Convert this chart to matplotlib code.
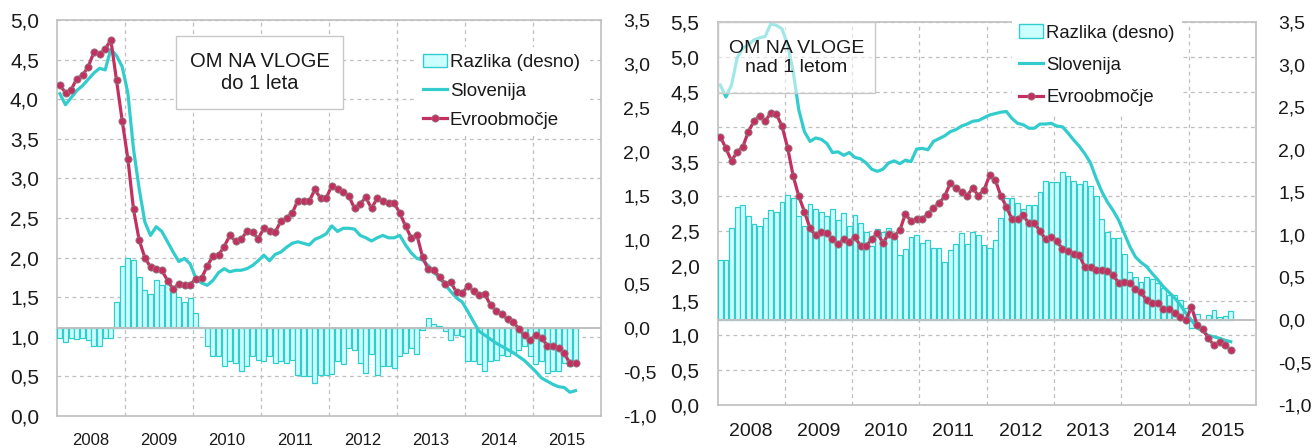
import matplotlib
matplotlib.use("Agg")
import matplotlib.pyplot as plt
import numpy as np
from matplotlib.lines import Line2D
from matplotlib.patches import Patch, Rectangle
from matplotlib.ticker import FixedLocator, FuncFormatter

plt.rcParams["font.family"] = ["Liberation Sans", "DejaVu Sans"]

# monthly data, Jan 2008 - Aug 2015
years = ["2008", "2009", "2010", "2011", "2012", "2013", "2014", "2015"]

# OM NA VLOGE do 1 leta
sl_short = [4.07, 3.93, 4.02, 4.11, 4.17, 4.25, 4.33, 4.39, 4.37, 4.63, 4.55, 4.41,
            4.08, 3.37, 2.87, 2.45, 2.28, 2.39, 2.33, 2.20, 2.07, 1.95, 1.99, 1.92,
            1.74, 1.68, 1.65, 1.71, 1.81, 1.86, 1.82, 1.84, 1.84, 1.86, 1.90, 1.96,
            2.03, 1.96, 2.04, 2.07, 2.13, 2.18, 2.20, 2.18, 2.16, 2.23, 2.26, 2.30,
            2.40, 2.33, 2.37, 2.37, 2.36, 2.28, 2.25, 2.21, 2.25, 2.28, 2.25, 2.25,
            2.28, 2.16, 2.06, 1.99, 1.97, 1.90, 1.82, 1.74, 1.66, 1.57, 1.49, 1.44,
            1.32, 1.19, 1.07, 1.02, 0.97, 0.92, 0.88, 0.84, 0.80, 0.75, 0.70, 0.63,
            0.56, 0.48, 0.44, 0.40, 0.37, 0.36, 0.30, 0.32]
ez_short = [4.18, 4.08, 4.12, 4.26, 4.30, 4.41, 4.59, 4.57, 4.63, 4.75, 4.24, 3.73,
            3.25, 2.61, 2.22, 2.00, 1.88, 1.85, 1.84, 1.71, 1.60, 1.67, 1.66, 1.66,
            1.73, 1.74, 1.89, 2.02, 2.03, 2.14, 2.28, 2.21, 2.23, 2.33, 2.32, 2.24,
            2.37, 2.34, 2.32, 2.46, 2.50, 2.56, 2.72, 2.71, 2.71, 2.86, 2.75, 2.75,
            2.91, 2.86, 2.83, 2.78, 2.62, 2.68, 2.76, 2.62, 2.75, 2.71, 2.69, 2.69,
            2.56, 2.40, 2.25, 2.29, 2.01, 1.85, 1.84, 1.76, 1.67, 1.69, 1.56, 1.55,
            1.64, 1.58, 1.53, 1.54, 1.40, 1.33, 1.29, 1.22, 1.19, 1.10, 1.02, 0.96,
            1.02, 0.99, 0.89, 0.89, 0.86, 0.79, 0.67, 0.67]
diff_short = [-0.11, -0.16, -0.11, -0.13, -0.11, -0.14, -0.21, -0.20, -0.11, -0.11, 0.30, 0.70,
              0.80, 0.77, 0.58, 0.43, 0.39, 0.54, 0.49, 0.54, 0.41, 0.35, 0.29, 0.34,
              0.17, 0.01, -0.21, -0.32, -0.32, -0.43, -0.38, -0.40, -0.49, -0.43, -0.32, -0.36,
              -0.38, -0.32, -0.40, -0.38, -0.40, -0.36, -0.53, -0.54, -0.55, -0.63, -0.53, -0.53,
              -0.52, -0.38, -0.41, -0.23, -0.25, -0.40, -0.51, -0.30, -0.53, -0.43, -0.43, -0.45,
              -0.32, -0.28, -0.23, -0.30, -0.02, 0.11, 0.04, 0.02, -0.03, -0.14, -0.08, -0.09,
              -0.38, -0.38, -0.41, -0.49, -0.38, -0.36, -0.31, -0.32, -0.28, -0.25, -0.21, -0.32,
              -0.41, -0.38, -0.51, -0.49, -0.49, -0.40, -0.43, -0.38]

# OM NA VLOGE nad 1 letom
sl_long = [4.60, 4.43, 4.60, 4.99, 5.13, 5.18, 5.25, 5.28, 5.30, 5.48, 5.46, 5.41,
           5.18, 4.79, 4.24, 3.93, 3.79, 3.84, 3.82, 3.76, 3.63, 3.64, 3.59, 3.63,
           3.56, 3.54, 3.48, 3.39, 3.36, 3.39, 3.48, 3.51, 3.47, 3.52, 3.50, 3.68,
           3.69, 3.67, 3.79, 3.83, 3.87, 3.93, 3.96, 4.01, 4.04, 4.08, 4.09, 4.13,
           4.17, 4.19, 4.21, 4.22, 4.12, 4.05, 4.03, 3.98, 3.98, 4.04, 4.04, 4.05,
           4.01, 4.00, 3.91, 3.81, 3.72, 3.61, 3.48, 3.26, 3.07, 2.92, 2.80, 2.66,
           2.47, 2.28, 2.13, 2.05, 1.99, 1.89, 1.80, 1.70, 1.62, 1.54, 1.44, 1.32,
           1.22, 1.11, 1.06, 1.00, 0.98, 0.96, 0.93, 0.91]
ez_long = [3.86, 3.69, 3.51, 3.64, 3.71, 3.93, 4.08, 4.16, 4.08, 4.20, 4.18, 4.01,
           3.70, 3.29, 3.00, 2.78, 2.54, 2.44, 2.49, 2.47, 2.38, 2.31, 2.38, 2.35,
           2.41, 2.29, 2.29, 2.38, 2.47, 2.33, 2.46, 2.43, 2.51, 2.75, 2.64, 2.68,
           2.68, 2.74, 2.83, 2.90, 3.00, 3.19, 3.12, 3.06, 3.01, 3.12, 3.01, 3.09,
           3.30, 3.24, 3.01, 2.85, 2.67, 2.67, 2.73, 2.61, 2.61, 2.50, 2.38, 2.41,
           2.36, 2.24, 2.21, 2.17, 2.15, 1.98, 1.98, 1.94, 1.94, 1.93, 1.87, 1.76,
           1.77, 1.76, 1.67, 1.62, 1.51, 1.47, 1.47, 1.38, 1.38, 1.32, 1.26, 1.22,
           1.41, 1.15, 1.09, 0.96, 0.86, 0.91, 0.86, 0.79]
diff_long = [0.71, 0.71, 1.08, 1.33, 1.35, 1.22, 1.13, 1.11, 1.20, 1.29, 1.27, 1.39,
             1.47, 1.44, 1.22, 1.11, 1.37, 1.31, 1.27, 1.22, 1.30, 1.18, 1.26, 1.11,
             1.24, 1.14, 1.04, 0.87, 1.07, 1.04, 1.08, 0.95, 0.76, 0.84, 0.98, 1.00,
             0.90, 0.94, 0.85, 0.85, 0.68, 0.82, 0.89, 1.02, 0.89, 1.04, 1.00, 0.88,
             0.85, 0.94, 1.20, 1.44, 1.44, 1.38, 1.30, 1.35, 1.35, 1.51, 1.64, 1.62,
             1.62, 1.74, 1.69, 1.64, 1.60, 1.64, 1.58, 1.46, 1.19, 1.03, 0.97, 0.97,
             0.78, 0.57, 0.51, 0.45, 0.51, 0.48, 0.44, 0.38, 0.29, 0.29, 0.23, 0.14,
             -0.10, 0.07, 0.00, 0.06, 0.12, 0.04, 0.05, 0.11]

SLO = "#33CCCC"
EZ = "#C33060"
BAR_FACE = "#CCFFFF"
GRID = "#BFBFBF"
TXT = "#1A1A1A"
W, H = 1312, 448


def comma(v, _pos=None):
    return f"{v:.1f}".replace(".", ",")


def fig_rect(x0, y0, x1, y1):
    # pixel box (top-left origin) -> figure fraction [l, b, w, h]
    return [x0 / W, 1 - y1 / H, (x1 - x0) / W, (y1 - y0) / H]


def panel(fig, px, ymax, sl, ez, diff, title, title_px, title_alpha, fs_title,
          leg_px, fs_y, fs_y2, fs_x, fs_leg, xpad, leg_space, leg_pad):
    n = len(sl)
    x = np.arange(n) + 0.5

    ax = fig.add_axes(fig_rect(*px))
    ax.set_xlim(0, 96)
    ax.set_ylim(0, ymax)
    ax.yaxis.set_major_locator(FixedLocator(np.arange(0, ymax + 0.01, 0.5)))
    ax.yaxis.set_major_formatter(FuncFormatter(comma))
    ax.xaxis.set_major_locator(FixedLocator(np.arange(12, 96, 12)))
    ax.xaxis.set_minor_locator(FixedLocator(np.arange(6, 96, 12)))
    ax.xaxis.set_major_formatter(FuncFormatter(lambda v, p: ""))
    ax.set_xticklabels(years, minor=True)
    ax.grid(True, which="major", color=GRID, linestyle=(0, (3, 3)), linewidth=0.9)
    ax.tick_params(axis="both", which="both", length=0, colors=TXT)
    ax.tick_params(axis="y", labelsize=fs_y, pad=13)
    ax.tick_params(axis="x", which="minor", labelsize=fs_x, pad=xpad)
    for s in ax.spines.values():
        s.set_color(GRID)
        s.set_linewidth(1.2)

    axb = ax.twinx()
    axb.set_ylim(-1, 3.5)
    axb.yaxis.set_major_locator(FixedLocator(np.arange(-1, 3.51, 0.5)))
    axb.yaxis.set_major_formatter(FuncFormatter(comma))
    axb.tick_params(axis="y", length=0, labelsize=fs_y2, pad=16, colors=TXT)
    for s in axb.spines.values():
        s.set_visible(False)
    axb.bar(x, diff, width=0.86, color=BAR_FACE, edgecolor=SLO, linewidth=0.9)
    axb.axhline(0, color=GRID, linewidth=1.4)

    axl = ax.twinx()
    axl.set_ylim(0, ymax)
    axl.set_yticks([])
    for s in axl.spines.values():
        s.set_visible(False)
    axl.plot(x, sl, color=SLO, linewidth=2.3)
    axl.plot(x, ez, color=EZ, linewidth=2.3, marker="o", markersize=5.2,
             markerfacecolor=EZ, markeredgecolor="#8C7C80", markeredgewidth=0.6)

    # title box
    tx0, ty0, tx1, ty1 = title_px
    rect = Rectangle(((tx0) / W, 1 - ty1 / H), (tx1 - tx0) / W, (ty1 - ty0) / H,
                     transform=fig.transFigure, facecolor="white", alpha=title_alpha,
                     edgecolor="none", zorder=10)
    axl.add_patch(rect)
    frame = Rectangle(((tx0) / W, 1 - ty1 / H), (tx1 - tx0) / W, (ty1 - ty0) / H,
                      transform=fig.transFigure, facecolor="none",
                      edgecolor="#C8C8C8", linewidth=1.0, zorder=11)
    axl.add_patch(frame)
    axl.text((tx0 + tx1) / 2 / W, 1 - (ty0 + ty1) / 2 / H, title,
             transform=fig.transFigure, ha="center", va="center",
             fontsize=fs_title, color=TXT, linespacing=1.15, zorder=12)

    handles = [
        Patch(facecolor=BAR_FACE, edgecolor=SLO, linewidth=1.0),
        Line2D([], [], color=SLO, linewidth=2.3),
        Line2D([], [], color=EZ, linewidth=2.3, marker="o", markersize=5.2,
               markerfacecolor=EZ, markeredgecolor="#8C7C80", markeredgewidth=0.6),
    ]
    leg = axl.legend(handles, ["Razlika (desno)", "Slovenija", "Evroobmočje"],
                     loc="upper left", bbox_to_anchor=(leg_px[0] / W, 1 - leg_px[1] / H),
                     bbox_transform=fig.transFigure, frameon=True, fancybox=False,
                     facecolor="white", edgecolor="none", framealpha=1,
                     fontsize=fs_leg, handlelength=1.3, handleheight=0.75,
                     handletextpad=0.15, labelspacing=leg_space, borderpad=leg_pad,
                     borderaxespad=0)
    for t in leg.get_texts():
        t.set_color(TXT)
    leg.set_zorder(20)
    return ax


fig = plt.figure(figsize=(W / 100, H / 100), dpi=100)

panel(fig, (57, 20, 601, 416), 5.0, sl_short, ez_short, diff_short,
      "OM NA VLOGE\ndo 1 leta", (176, 36, 343, 109), 1.0, 14.5,
      (416, 47), 15, 14, 12, 13.5, 12, 0.62, 0.35)

panel(fig, (717.5, 22.5, 1256, 405), 5.5, sl_long, ez_long, diff_long,
      "OM NA VLOGE\nnad 1 letom", (717.5, 22.5, 875.5, 93), 0.55, 14,
      (1012, 17), 15, 14, 14, 13.3, 13, 0.82, 0.4)

fig.savefig("out.png", dpi=100)
